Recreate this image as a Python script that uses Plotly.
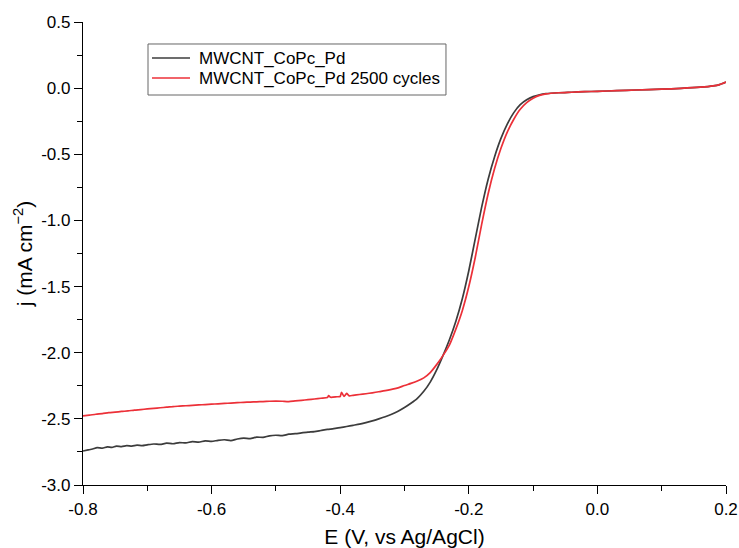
import plotly.graph_objects as go

# Series 1: MWCNT_CoPc_Pd (potential in V vs Ag/AgCl, current density in mA cm^-2)
name_fresh = "MWCNT_CoPc_Pd"
e_fresh = [-0.800, -0.792, -0.785, -0.778, -0.770, -0.762, -0.755, -0.748, -0.740, -0.732,
           -0.724, -0.716, -0.708, -0.700, -0.690, -0.680, -0.670, -0.660, -0.650, -0.640,
           -0.630, -0.620, -0.610, -0.600, -0.590, -0.580, -0.570, -0.560, -0.550, -0.540,
           -0.530, -0.520, -0.510, -0.500, -0.490, -0.480, -0.470, -0.460, -0.450, -0.440,
           -0.430, -0.420, -0.410, -0.400, -0.390, -0.380, -0.370, -0.360, -0.350, -0.340,
           -0.330, -0.320, -0.310, -0.300, -0.290, -0.280, -0.270, -0.260, -0.250, -0.240,
           -0.230, -0.220, -0.210, -0.200, -0.190, -0.180, -0.170, -0.160, -0.150, -0.140,
           -0.130, -0.120, -0.110, -0.100, -0.090, -0.080, -0.060, -0.040, -0.020, 0.000,
           0.030, 0.060, 0.100, 0.130, 0.160, 0.180, 0.190, 0.200]
j_fresh = [-2.743, -2.735, -2.728, -2.718, -2.722, -2.712, -2.716, -2.706, -2.710, -2.703,
           -2.706, -2.699, -2.702, -2.696, -2.690, -2.693, -2.684, -2.688, -2.679, -2.682,
           -2.672, -2.676, -2.666, -2.670, -2.662, -2.658, -2.664, -2.652, -2.645, -2.650,
           -2.638, -2.640, -2.628, -2.624, -2.627, -2.616, -2.612, -2.606, -2.600, -2.596,
           -2.588, -2.580, -2.574, -2.566, -2.558, -2.549, -2.540, -2.528, -2.515, -2.500,
           -2.484, -2.465, -2.442, -2.414, -2.382, -2.345, -2.292, -2.222, -2.130, -2.020,
           -1.900, -1.760, -1.590, -1.380, -1.140, -0.900, -0.690, -0.520, -0.380, -0.270,
           -0.185, -0.125, -0.088, -0.064, -0.050, -0.042, -0.035, -0.031, -0.027, -0.024,
           -0.019, -0.014, -0.008, -0.002, 0.007, 0.017, 0.027, 0.046]

# Series 2: MWCNT_CoPc_Pd after 2500 cycles
name_cycled = "MWCNT_CoPc_Pd 2500 cycles"
e_cycled = [-0.800, -0.790, -0.780, -0.770, -0.760, -0.750, -0.740, -0.730, -0.720, -0.710,
            -0.700, -0.690, -0.680, -0.670, -0.660, -0.650, -0.640, -0.630, -0.620, -0.610,
            -0.600, -0.590, -0.580, -0.570, -0.560, -0.550, -0.540, -0.530, -0.520, -0.510,
            -0.500, -0.490, -0.480, -0.470, -0.460, -0.450, -0.440, -0.430, -0.420, -0.418,
            -0.415, -0.405, -0.400, -0.398, -0.394, -0.390, -0.386, -0.380, -0.370, -0.360,
            -0.350, -0.340, -0.330, -0.320, -0.310, -0.300, -0.290, -0.280, -0.270, -0.260,
            -0.250, -0.240, -0.230, -0.220, -0.210, -0.200, -0.190, -0.180, -0.170, -0.160,
            -0.150, -0.140, -0.130, -0.120, -0.110, -0.100, -0.090, -0.080, -0.060, -0.040,
            -0.020, 0.000, 0.030, 0.060, 0.100, 0.130, 0.160, 0.180, 0.190, 0.200]
j_cycled = [-2.478, -2.472, -2.465, -2.460, -2.453, -2.449, -2.444, -2.440, -2.434, -2.430,
            -2.425, -2.421, -2.416, -2.412, -2.407, -2.404, -2.401, -2.398, -2.395, -2.392,
            -2.389, -2.386, -2.383, -2.381, -2.378, -2.375, -2.373, -2.371, -2.369, -2.367,
            -2.366, -2.367, -2.369, -2.364, -2.360, -2.355, -2.350, -2.344, -2.339, -2.325,
            -2.337, -2.333, -2.331, -2.300, -2.330, -2.308, -2.326, -2.322, -2.316, -2.310,
            -2.303, -2.295, -2.287, -2.277, -2.266, -2.248, -2.232, -2.214, -2.190, -2.150,
            -2.090, -2.020, -1.940, -1.820, -1.680, -1.500, -1.280, -1.030, -0.800, -0.610,
            -0.455, -0.330, -0.235, -0.160, -0.110, -0.076, -0.055, -0.044, -0.035, -0.031,
            -0.027, -0.024, -0.019, -0.014, -0.008, -0.002, 0.007, 0.017, 0.027, 0.046]

x_ticks = [-0.8, -0.6, -0.4, -0.2, 0.0, 0.2]
x_tick_labels = ["-0.8", "-0.6", "-0.4", "-0.2", "0.0", "0.2"]
y_ticks = [0.5, 0.0, -0.5, -1.0, -1.5, -2.0, -2.5, -3.0]
y_tick_labels = ["0.5", "0.0", "-0.5", "-1.0", "-1.5", "-2.0", "-2.5", "-3.0"]

series_names = [name_fresh, name_cycled]
series_colors = ["#3c3c3c", "#ec3038"]

font_family = "Liberation Sans, Arial, sans-serif"

fig = go.Figure()
fig.add_trace(go.Scatter(x=e_fresh, y=j_fresh, mode="lines", name=name_fresh, showlegend=False,
                         line=dict(color=series_colors[0], width=1.7, shape="spline", smoothing=0.6)))
fig.add_trace(go.Scatter(x=e_cycled, y=j_cycled, mode="lines", name=name_cycled, showlegend=False,
                         line=dict(color=series_colors[1], width=1.7, shape="spline", smoothing=0.6)))

# Boxed legend (drawn in paper coordinates to match the original's compact layout)
leg_x0, leg_x1, leg_y0, leg_y1 = 0.1011, 0.5645, 0.8423, 0.9525
row_y = [0.9222, 0.8790]
shapes = [dict(type="rect", xref="paper", yref="paper", x0=leg_x0, x1=leg_x1, y0=leg_y0, y1=leg_y1,
               line=dict(color="#666666", width=1), fillcolor="white", layer="above")]
annotations = []
for name, color, ry in zip(series_names, series_colors, row_y):
    shapes.append(dict(type="line", xref="paper", yref="paper", x0=0.1073, x1=0.1664, y0=ry, y1=ry,
                       line=dict(color=color, width=1.6), layer="above"))
    annotations.append(dict(xref="paper", yref="paper", x=0.1773, y=ry, xanchor="left", yanchor="middle",
                            text=name, showarrow=False,
                            font=dict(family=font_family, size=17, color="black")))

axis_common = dict(
    showgrid=False, zeroline=False, showline=True, linecolor="black", linewidth=1.3,
    ticks="outside", ticklen=8, tickwidth=1.3, tickcolor="black", automargin=False,
    tickfont=dict(family=font_family, size=17, color="black"),
)

fig.update_layout(
    width=739, height=548,
    margin=dict(l=83, r=13, t=22, b=63),
    paper_bgcolor="white", plot_bgcolor="white",
    font=dict(family=font_family, color="black"),
    showlegend=False,
    shapes=shapes,
    annotations=annotations,
    xaxis=dict(range=[-0.8, 0.2], tickvals=x_ticks, ticktext=x_tick_labels,
               minor=dict(dtick=0.1, ticks="outside", ticklen=5, tickwidth=1.3, tickcolor="black"),
               title=dict(text="E (V, vs Ag/AgCl)", font=dict(family=font_family, size=21), standoff=13),
               **axis_common),
    yaxis=dict(range=[-3.0, 0.5], tickvals=y_ticks, ticktext=y_tick_labels,
               minor=dict(dtick=0.25, ticks="outside", ticklen=5, tickwidth=1.3, tickcolor="black"),
               title=dict(text="j (mA cm<sup>−2</sup>)", font=dict(family=font_family, size=21), standoff=2),
               **axis_common),
)

fig.write_html("out.html", config={"displayModeBar": False},
               post_script="document.body.style.margin='0';")
